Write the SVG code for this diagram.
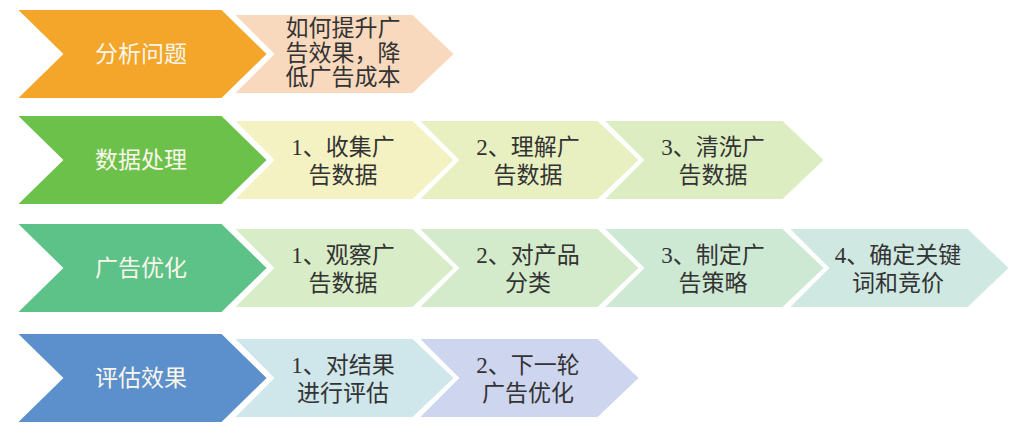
<svg xmlns="http://www.w3.org/2000/svg" width="1024" height="429" viewBox="0 0 1024 429">
<defs>
<style>
.main{stroke:#ffffff;stroke-width:2}
.sec{stroke:#ffffff;stroke-width:2}
.mt{font-family:"Liberation Serif","Noto Sans CJK SC",serif;font-size:23px;fill:#FBF6EA;text-anchor:middle}
.st{font-family:"Liberation Serif","Noto Sans CJK SC",serif;font-size:23px;fill:#333333;text-anchor:middle}
</style>
<path id="mch" d="M16,-45 L222,-45 L268,0 L222,45 L16,45 L62,0 Z"/>
<path id="sch" d="M0,-40 L180,-40 L222,0 L180,40 L0,40 L40,0 Z"/>
</defs>
<rect width="1024" height="429" fill="#ffffff"/>
<g id="connectors"></g>

<!-- Row 1 -->
<g id="r1s1"><use href="#sch" x="233" y="54" class="sec" fill="#F9D9BE"/>
<text class="st" x="343" y="36">如何提升广</text><text class="st" x="343" y="61">告效果，降</text><text class="st" x="343" y="85">低广告成本</text></g>
<g id="r1"><use href="#mch" x="0" y="54" class="main" fill="#F3A62A"/><text class="mt" x="141" y="62">分析问题</text></g>

<!-- Row 2 -->
<g id="r2s3"><use href="#sch" x="603" y="160" class="sec" fill="#DCEDC2"/>
<text class="st" x="713" y="155">3、清洗广</text><text class="st" x="713" y="183">告数据</text></g>
<g id="r2s2"><use href="#sch" x="418" y="160" class="sec" fill="#E8F0C2"/>
<text class="st" x="528" y="155">2、理解广</text><text class="st" x="528" y="183">告数据</text></g>
<g id="r2s1"><use href="#sch" x="233" y="160" class="sec" fill="#F4F2C3"/>
<text class="st" x="343" y="155">1、收集广</text><text class="st" x="343" y="183">告数据</text></g>
<g id="r2"><use href="#mch" x="0" y="160" class="main" fill="#6BC14A"/><text class="mt" x="141" y="168">数据处理</text></g>

<!-- Row 3 -->
<g id="r3s4"><use href="#sch" x="788" y="268" class="sec" fill="#CFE8E2"/>
<text class="st" x="898" y="263">4、确定关键</text><text class="st" x="898" y="291">词和竞价</text></g>
<g id="r3s3"><use href="#sch" x="603" y="268" class="sec" fill="#CDE8D3"/>
<text class="st" x="713" y="263">3、制定广</text><text class="st" x="713" y="291">告策略</text></g>
<g id="r3s2"><use href="#sch" x="418" y="268" class="sec" fill="#D3EBCA"/>
<text class="st" x="528" y="263">2、对产品</text><text class="st" x="528" y="291">分类</text></g>
<g id="r3s1"><use href="#sch" x="233" y="268" class="sec" fill="#D8EDC7"/>
<text class="st" x="343" y="263">1、观察广</text><text class="st" x="343" y="291">告数据</text></g>
<g id="r3"><use href="#mch" x="0" y="268" class="main" fill="#5DC288"/><text class="mt" x="141" y="276">广告优化</text></g>

<!-- Row 4 -->
<g id="r4s2"><use href="#sch" x="418" y="378" class="sec" fill="#CED5EE"/>
<text class="st" x="528" y="373">2、下一轮</text><text class="st" x="528" y="401">广告优化</text></g>
<g id="r4s1"><use href="#sch" x="233" y="378" class="sec" fill="#CFE6EA"/>
<text class="st" x="343" y="373">1、对结果</text><text class="st" x="343" y="401">进行评估</text></g>
<g id="r4"><use href="#mch" x="0" y="378" class="main" fill="#5C90CC"/><text class="mt" x="141" y="386">评估效果</text></g>
</svg>
